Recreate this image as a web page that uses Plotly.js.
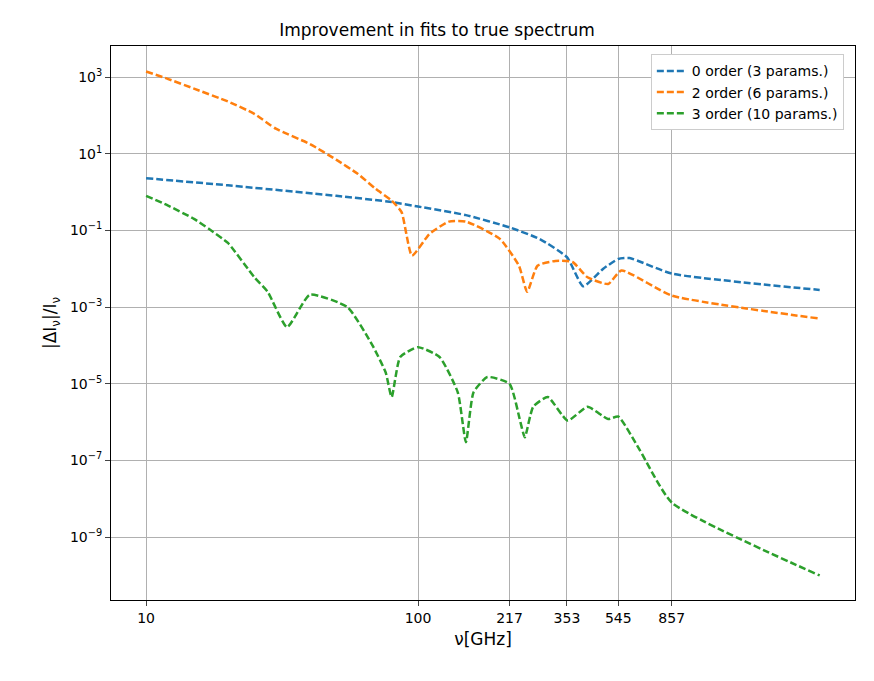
<!DOCTYPE html>
<html>
<head>
    <meta charset='utf-8'>
    <script src="https://cdn.plot.ly/plotly-3.0.1.min.js"></script>
    <style> body { margin:0; } </style>
</head>
<body>
    <div style="width:874px;height:681px" id="chartDiv"></div>
    <script>
        const blueX = [10, 20, 50, 80, 100, 150, 217, 280, 353, 405, 480, 545, 600, 857, 3000];
        const blueY = [2.3, 1.5, 0.8, 0.55, 0.42, 0.25, 0.12, 0.06, 0.02, 0.0035, 0.01, 0.018, 0.019, 0.0075, 0.0028];

        const orangeX = [10, 12, 15, 20, 25, 30, 40, 50, 60, 70, 80, 87, 95, 110, 130, 150, 200, 235, 252, 275, 320, 370, 420, 500, 560, 857, 3000];
        const orangeY = [1400, 900, 500, 230, 110, 45, 18, 7, 3, 1.2, 0.6, 0.3, 0.022, 0.08, 0.17, 0.17, 0.06, 0.012, 0.0025, 0.012, 0.016, 0.015, 0.006, 0.004, 0.009, 0.002, 0.0005];

        const greenX = [10, 12, 15, 17, 20, 25, 28, 33, 40, 55, 68, 76, 80, 86, 100, 120, 140, 150, 160, 180, 217, 238, 247, 265, 300, 355, 420, 500, 545, 650, 857, 3000];
        const greenY = [0.8, 0.45, 0.2, 0.11, 0.047, 0.006, 0.0025, 0.0003, 0.0021, 0.001, 0.0001, 0.00002, 0.0000045, 0.00005, 0.00009, 0.00005, 0.000006, 0.0000003, 0.000006, 0.000015, 0.00001, 0.000001, 0.0000004, 0.0000025, 0.0000045, 0.0000011, 0.0000025, 0.0000012, 0.0000014, 0.0000002, 0.000000008, 0.0000000001];

        const xTicks = [10, 100, 217, 353, 545, 857];
        const yTicks = [1e3, 1e1, 1e-1, 1e-3, 1e-5, 1e-7, 1e-9];
        const yTickText = ["10<sup>3</sup>", "10<sup>1</sup>", "10<sup>−1</sup>", "10<sup>−3</sup>", "10<sup>−5</sup>", "10<sup>−7</sup>", "10<sup>−9</sup>"];

        const mk = (x, y, color, name) => ({
            x: x, y: y, type: 'scatter', mode: 'lines', name: name,
            line: { color: color, width: 2.5, dash: '7px,3px', shape: 'spline', smoothing: 0.5 }
        });

        Plotly.newPlot('chartDiv', [
            mk(blueX, blueY, '#1f77b4', '0 order (3 params.)'),
            mk(orangeX, orangeY, '#ff7f0e', '2 order (6 params.)'),
            mk(greenX, greenY, '#2ca02c', '3 order (10 params.)'),
        ], {
            width: 874, height: 681,
            margin: { l: 111, r: 19, t: 46, b: 81 },
            font: { family: 'DejaVu Sans', size: 14, color: '#000' },
            title: { text: 'Improvement in fits to true spectrum', font: { size: 17 }, y: 0.965 },
            showlegend: true,
            legend: { x: 0.985, y: 0.985, xanchor: 'right', yanchor: 'top', bordercolor: '#ccc', borderwidth: 1, font: { size: 14 } },
            xaxis: {
                type: 'log', range: [Math.log10(7.43), Math.log10(4045)],
                tickvals: xTicks, ticktext: xTicks.map(String),
                showgrid: true, gridcolor: '#b0b0b0', ticks: 'outside', ticklen: 5,
                showline: true, mirror: true, linecolor: '#000', zeroline: false,
                title: { text: 'ν[GHz]', standoff: 8 }
            },
            yaxis: {
                type: 'log', range: [-10.64, 3.81],
                tickvals: yTicks, ticktext: yTickText,
                showgrid: true, gridcolor: '#b0b0b0', ticks: 'outside', ticklen: 5,
                showline: true, mirror: true, linecolor: '#000', zeroline: false,
                title: { text: '|ΔI<sub>ν</sub>|/I<sub>ν</sub>', standoff: 8 }
            },
            plot_bgcolor: '#fff', paper_bgcolor: '#fff'
        }, { displayModeBar: false });
    </script>
</body>
</html>
